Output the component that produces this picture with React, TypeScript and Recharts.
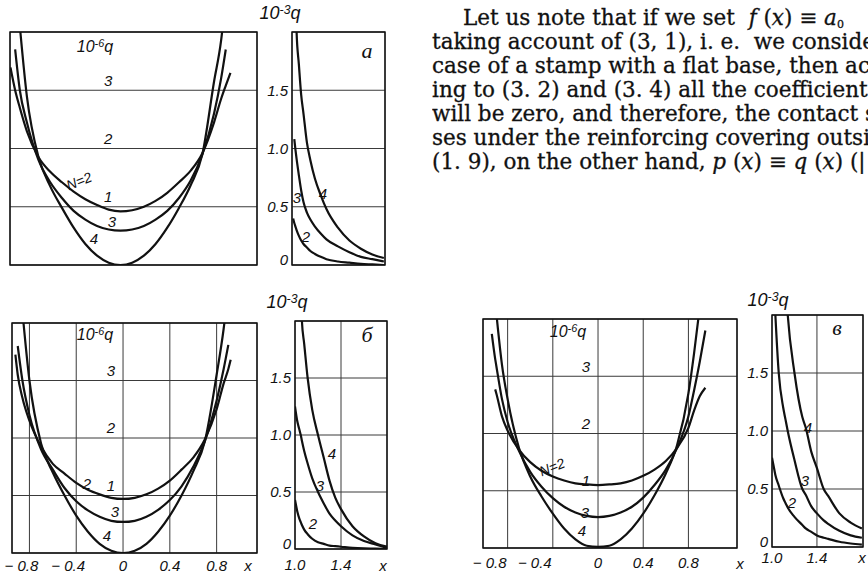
import React from 'react';
import { LineChart, Line, XAxis, YAxis, CartesianGrid, ReferenceArea } from 'recharts';

// panel а, left: 10^-6 q vs x
const A_X = [-0.94, -0.9, -0.86, -0.8, -0.7, -0.6, -0.5, -0.4, -0.3, -0.2, -0.1, 0, 0.1, 0.2, 0.3, 0.4, 0.5, 0.6, 0.7, 0.8, 0.86, 0.9, 0.94];
const A_N2 = [3.39, 3.0, 2.7, 2.3, 1.85, 1.6, 1.42, 1.26, 1.13, 1.03, 0.95, 0.92, 0.94, 1.0, 1.1, 1.24, 1.42, 1.62, 1.92, 2.45, 2.85, 3.08, 3.3];
const A_N3 = [null, 3.7, 3.0, 2.45, 1.8, 1.42, 1.15, 0.93, 0.78, 0.67, 0.61, 0.59, 0.61, 0.67, 0.78, 0.93, 1.15, 1.45, 1.9, 2.6, 3.2, 3.7, null];
const A_N4 = [null, null, 4.1, 2.9, 1.85, 1.35, 0.98, 0.64, 0.36, 0.16, 0.04, 0, 0.04, 0.16, 0.36, 0.64, 0.98, 1.37, 1.9, 3.15, 3.85, 4.6, null];

// panel а, right: 10^-3 q vs x
const AR_X = [1.01, 1.02, 1.03, 1.04, 1.06, 1.08, 1.1, 1.13, 1.16, 1.2, 1.25, 1.3, 1.4, 1.5, 1.6, 1.7, 1.8];
const AR_N2 = [0.4, 0.36, 0.33, 0.3, 0.25, 0.21, 0.18, 0.15, 0.12, 0.095, 0.07, 0.05, 0.03, 0.02, 0.01, 0.005, 0];
const AR_N3 = [null, 1.08, 0.99, 0.91, 0.77, 0.64, 0.54, 0.45, 0.39, 0.33, 0.27, 0.22, 0.16, 0.11, 0.07, 0.05, 0.03];
const AR_N4 = [null, null, 2.4, 2.0, 1.72, 1.46, 1.3, 1.05, 0.9, 0.74, 0.6, 0.48, 0.32, 0.21, 0.14, 0.09, 0.06];

// panel б
const B_X = [-0.92, -0.9, -0.86, -0.8, -0.7, -0.6, -0.5, -0.4, -0.3, -0.2, -0.1, 0, 0.1, 0.2, 0.3, 0.4, 0.5, 0.6, 0.7, 0.8, 0.86, 0.9, 0.92];
const B_N2 = [3.45, 3.1, 2.7, 2.3, 1.85, 1.55, 1.38, 1.22, 1.1, 1.02, 0.96, 0.94, 0.96, 1.02, 1.12, 1.26, 1.45, 1.66, 1.98, 2.5, 2.95, 3.2, 3.36];
const B_N3 = [null, 3.6, 3.0, 2.4, 1.8, 1.45, 1.13, 0.9, 0.74, 0.63, 0.56, 0.54, 0.56, 0.63, 0.75, 0.92, 1.16, 1.5, 1.95, 2.65, 3.2, 3.62, null];
const B_N4 = [null, null, 4.2, 3.0, 1.9, 1.4, 1.0, 0.65, 0.37, 0.16, 0.04, 0, 0.04, 0.16, 0.37, 0.65, 1.0, 1.42, 1.95, 3.1, 3.9, 4.6, null];

const BR_X = [1.0, 1.02, 1.04, 1.05, 1.06, 1.08, 1.11, 1.15, 1.2, 1.25, 1.3, 1.35, 1.4, 1.5, 1.6, 1.7, 1.8];
const BR_N2 = [0.43, 0.33, 0.26, 0.235, 0.21, 0.17, 0.13, 0.09, 0.06, 0.045, 0.03, 0.025, 0.02, 0.01, 0.005, 0.003, 0];
const BR_N3 = [1.25, 1.12, 1.04, 1.0, 0.95, 0.86, 0.75, 0.62, 0.5, 0.4, 0.31, 0.25, 0.2, 0.12, 0.07, 0.04, 0.01];
const BR_N4 = [null, null, null, 2.3, 2.0, 1.8, 1.5, 1.22, 1.0, 0.8, 0.6, 0.45, 0.35, 0.2, 0.11, 0.05, 0.02];

// panel в
const C_X = [-0.94, -0.91, -0.9, -0.85, -0.8, -0.7, -0.6, -0.5, -0.4, -0.3, -0.2, -0.1, 0, 0.1, 0.2, 0.3, 0.4, 0.5, 0.6, 0.7, 0.8, 0.85, 0.9, 0.95];
const C_N2 = [null, 2.77, 2.7, 2.3, 2.05, 1.72, 1.5, 1.35, 1.25, 1.18, 1.13, 1.11, 1.1, 1.11, 1.13, 1.18, 1.26, 1.37, 1.52, 1.75, 2.1, 2.4, 2.65, 2.8];
const C_N3 = [3.74, 3.3, 3.18, 2.6, 2.2, 1.7, 1.33, 1.07, 0.87, 0.72, 0.62, 0.56, 0.54, 0.56, 0.62, 0.72, 0.88, 1.1, 1.37, 1.75, 2.3, 2.75, 3.25, 3.8];
const C_N4 = [null, null, 4.1, 3.2, 2.6, 1.75, 1.25, 0.9, 0.6, 0.34, 0.15, 0.04, 0.02, 0.04, 0.15, 0.34, 0.6, 0.92, 1.3, 1.8, 2.7, 3.4, 4.2, null];

const CR_X = [1.0, 1.02, 1.03, 1.06, 1.1, 1.12, 1.14, 1.2, 1.27, 1.3, 1.35, 1.4, 1.46, 1.5, 1.6, 1.7, 1.8];
const CR_N2 = [0.77, 0.67, 0.62, 0.53, 0.42, 0.38, 0.34, 0.26, 0.19, 0.16, 0.13, 0.1, 0.08, 0.07, 0.045, 0.03, 0.02];
const CR_N3 = [null, 2.2, 2.0, 1.5, 1.2, 1.1, 1.0, 0.75, 0.5, 0.45, 0.35, 0.29, 0.23, 0.2, 0.14, 0.1, 0.08];
const CR_N4 = [null, null, null, null, null, 2.3, 2.0, 1.5, 1.12, 1.03, 0.82, 0.68, 0.5, 0.44, 0.29, 0.21, 0.16];

const LEFT_X_TICKS = [-0.8, -0.4, 0, 0.4, 0.8];
const LEFT_Y_TICKS = [0, 1, 2, 3];
const RIGHT_X_TICKS = [1.0, 1.4];
const RIGHT_Y_TICKS = [0, 0.5, 1, 1.5];

const TEXT_LINES = [
  'Let us note that if we set  ',
  'taking account of (3, 1), i. e.  we consider the',
  'case of a stamp with a flat base, then accord-',
  'ing to (3. 2) and (3. 4) all the coefficients',
  'will be zero, and therefore, the contact stres-',
  'ses under the reinforcing covering outside the',
  '(1. 9), on the other hand, ',
];

const INK = '#111';
const GRID = '#3a3a3a';
const SANS = '"Liberation Sans", Arial, sans-serif';
const SERIF = '"DejaVu Serif", serif';

const rows = (xs: number[], n2: any[], n3: any[], n4: any[]) =>
  xs.map((x, i) => ({ x, n2: n2[i], n3: n3[i], n4: n4[i] }));

const fmtX = (v: number) => (v === 0 ? '0' : (v < 0 ? '\u2212 ' : '') + Math.abs(v).toFixed(1));

type Box = { left: number; top: number; w: number; h: number };

function Panel(props: {
  box: Box; data: any[]; xDomain: [number, number]; kind: 'left' | 'right';
  xLabels: boolean; tickGap?: number; negShift?: number;
}) {
  const { box, data, xDomain, kind, xLabels } = props;
  const yMax = kind === 'left' ? 4 : 2;
  const padL = 14, padT = 2, padR = 2;
  const YW = kind === 'right' ? 34 : 0;
  const XH = xLabels ? 26 : 12;
  const W = padL + YW + box.w + padR;
  const H = padT + box.h + XH;
  const zeroX = padL + ((0 - xDomain[0]) / (xDomain[1] - xDomain[0])) * box.w;
  const neg = props.negShift ?? -8;

  const XTick = (p: any) => (
    <text x={p.x + (p.payload.value < 0 ? neg : 0)} y={p.y} dy="0.71em" textAnchor="middle"
      fontSize={15} fontStyle="italic" fontFamily={SANS} fill={INK}>
      {fmtX(p.payload.value)}
    </text>
  );
  const InnerTick = (p: any) =>
    p.payload.value === 0 ? <g /> : (
      <text x={zeroX - 8} y={p.y - 10} dy="0.35em" textAnchor="end"
        fontSize={15} fontStyle="italic" fontFamily={SANS} fill={INK}>
        {p.payload.value}
      </text>
    );
  const OuterTick = (p: any) => (
    <text x={p.x} y={p.y - (p.payload.value === 0 ? 5 : 0)} dy="0.35em" textAnchor="end"
      fontSize={15} fontStyle="italic" fontFamily={SANS} fill={INK}>
      {p.payload.value === 0 ? '0' : p.payload.value.toFixed(1)}
    </text>
  );

  return (
    <div style={{ position: 'absolute', left: box.left - padL - YW, top: box.top - padT }}>
      <LineChart width={W} height={H} data={data} margin={{ top: padT, right: padR, left: padL, bottom: 0 }}>
        <CartesianGrid stroke={GRID} strokeWidth={1} />
        <XAxis dataKey="x" type="number" domain={xDomain} allowDataOverflow
          ticks={kind === 'left' ? LEFT_X_TICKS : RIGHT_X_TICKS}
          axisLine={false} tickLine={false} tickSize={0} tickMargin={props.tickGap ?? 7}
          height={XH} tick={xLabels ? XTick : false} interval={0} />
        {kind === 'left' ? (
          <YAxis type="number" domain={[0, yMax]} allowDataOverflow ticks={LEFT_Y_TICKS}
            mirror axisLine={false} tickLine={false} tick={InnerTick} interval={0} />
        ) : (
          <YAxis type="number" domain={[0, yMax]} allowDataOverflow ticks={RIGHT_Y_TICKS}
            width={YW} axisLine={false} tickLine={false} tickSize={0} tickMargin={4}
            tick={OuterTick} interval={0} />
        )}
        <ReferenceArea x1={xDomain[0]} x2={xDomain[1]} y1={0} y2={yMax} fill="none"
          stroke={INK} strokeWidth={1.4} ifOverflow="visible" />
        {['n2', 'n3', 'n4'].map((k) => (
          <Line key={k} dataKey={k} type="monotone" stroke={INK} strokeWidth={2.2}
            dot={false} isAnimationActive={false} connectNulls={false} />
        ))}
      </LineChart>
    </div>
  );
}

function Lbl({ x, y, children, size = 15, rot = 0, family = SANS }: any) {
  return (
    <div style={{
      position: 'absolute', left: x, top: y, transform: `translate(-50%, -50%) rotate(${rot}deg)`,
      fontSize: size, fontStyle: 'italic', fontFamily: family, color: INK, whiteSpace: 'nowrap', lineHeight: 1,
    }}>{children}</div>
  );
}

const Q = ({ p }: { p: string }) => (
  <span>10<span style={{ fontSize: '0.68em', position: 'relative', top: '-0.45em' }}>{p}</span>q</span>
);

export default function App() {
  return (
    <div style={{ position: 'absolute', left: 0, top: 0, width: 868, height: 577, background: '#fff', overflow: 'hidden' }}>
      {/* panel а */}
      <Panel box={{ left: 10, top: 32, w: 247, h: 233 }} data={rows(A_X, A_N2, A_N3, A_N4)}
        xDomain={[-0.944, 1.167]} kind="left" xLabels={false} />
      <Panel box={{ left: 292, top: 32, w: 93, h: 233 }} data={rows(AR_X, AR_N2, AR_N3, AR_N4)}
        xDomain={[1.0, 1.81]} kind="right" xLabels={false} />
      <Lbl x={95} y={47} size={16}><Q p="-6" /></Lbl>
      <Lbl x={79} y={181} size={14} rot={-22}>N=2</Lbl>
      <Lbl x={112} y={221}>3</Lbl>
      <Lbl x={94} y={238}>4</Lbl>
      <Lbl x={280} y={13} size={18}><Q p="-3" /></Lbl>
      <Lbl x={367} y={51} size={22} family='"Liberation Serif", serif'>а</Lbl>
      <Lbl x={297} y={197}>3</Lbl>
      <Lbl x={323} y={193}>4</Lbl>
      <Lbl x={306} y={236}>2</Lbl>

      {/* panel б */}
      <Panel box={{ left: 12, top: 323, w: 245, h: 230 }} data={rows(B_X, B_N2, B_N3, B_N4)}
        xDomain={[-0.949, 1.145]} kind="left" xLabels tickGap={7} negShift={-8} />
      <Panel box={{ left: 295, top: 321, w: 92, h: 228 }} data={rows(BR_X, BR_N2, BR_N3, BR_N4)}
        xDomain={[1.0, 1.8]} kind="right" xLabels tickGap={10} />
      <Lbl x={95} y={335} size={16}><Q p="-6" /></Lbl>
      <Lbl x={87} y={483}>2</Lbl>
      <Lbl x={115} y={511}>3</Lbl>
      <Lbl x={107} y={535}>4</Lbl>
      <Lbl x={248} y={565}>x</Lbl>
      <Lbl x={287} y={302} size={18}><Q p="-3" /></Lbl>
      <Lbl x={367} y={335} size={22} family='"Liberation Serif", serif'>б</Lbl>
      <Lbl x={332} y={453}>4</Lbl>
      <Lbl x={320} y={485}>3</Lbl>
      <Lbl x={313} y={523}>2</Lbl>
      <Lbl x={383} y={565}>x</Lbl>

      {/* panel в */}
      <Panel box={{ left: 483, top: 319, w: 254, h: 229 }} data={rows(C_X, C_N2, C_N3, C_N4)}
        xDomain={[-1.018, 1.23]} kind="left" xLabels tickGap={9} negShift={-18} />
      <Panel box={{ left: 772, top: 315, w: 91, h: 232 }} data={rows(CR_X, CR_N2, CR_N3, CR_N4)}
        xDomain={[1.0, 1.81]} kind="right" xLabels tickGap={5} />
      <Lbl x={568} y={332} size={16}><Q p="-6" /></Lbl>
      <Lbl x={552} y={467} size={14} rot={-22}>N=2</Lbl>
      <Lbl x={585} y={512}>3</Lbl>
      <Lbl x={582} y={530}>4</Lbl>
      <Lbl x={740} y={563}>x</Lbl>
      <Lbl x={768} y={300} size={18}><Q p="-3" /></Lbl>
      <Lbl x={837} y={328} size={22} family='"Liberation Serif", serif'>в</Lbl>
      <Lbl x={808} y={427}>4</Lbl>
      <Lbl x={805} y={480}>3</Lbl>
      <Lbl x={792} y={502}>2</Lbl>
      <Lbl x={862} y={557}>x</Lbl>

      {/* running text */}
      <div style={{
        position: 'absolute', left: 432, top: 6, width: 436, overflow: 'hidden', whiteSpace: 'pre',
        fontFamily: SERIF, fontSize: 21.5, lineHeight: '24px', color: INK,
        WebkitTextStroke: '0.3px #111',
      }}>
        {TEXT_LINES.map((t, i) => (
          <div key={i} style={{ paddingLeft: i === 0 ? 31 : 0, height: 24 }}>
            {t}
            {i === 0 && (
              <span><i>f</i> (<i>x</i>) ≡ <i>a</i>
                <span style={{ fontSize: 11, position: 'relative', top: 3 }}>0</span></span>
            )}
            {i === 6 && <span><i>p</i> (<i>x</i>) ≡ <i>q</i> (<i>x</i>) (| <i>x</i> | &lt; 1)</span>}
          </div>
        ))}
      </div>
    </div>
  );
}
